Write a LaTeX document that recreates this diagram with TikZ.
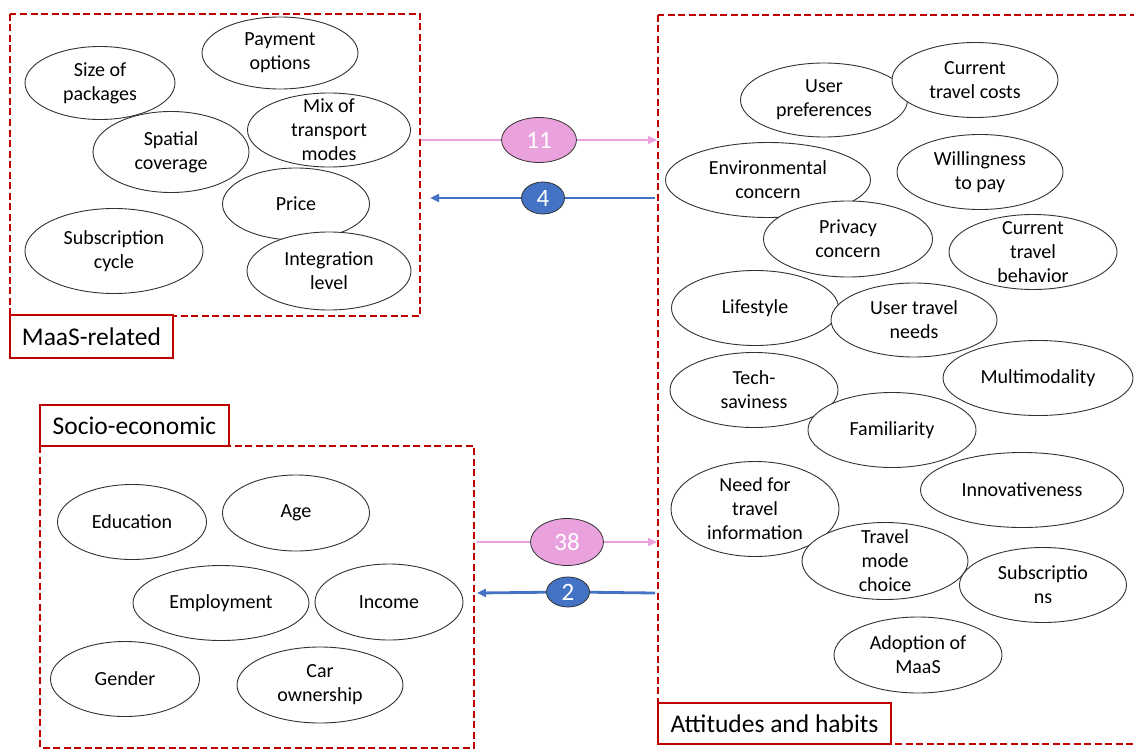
\documentclass[tikz,border=0pt]{standalone}
\usepackage{fontspec}
\setmainfont{Carlito}
\usetikzlibrary{shapes.geometric,arrows.meta}
\definecolor{boxred}{RGB}{192,0,0}
\definecolor{pinkc}{RGB}{234,162,222}
\definecolor{bluec}{RGB}{68,114,196}
\definecolor{outl}{RGB}{50,50,50}
\tikzset{
  ell/.style={ellipse, draw=outl, line width=0.9pt, fill=white, inner sep=-20pt, align=center,
     font=\fontsize{20}{24}\selectfont},
  grp/.style={draw=boxred, line width=2.9pt, dash pattern=on 7pt off 3.5pt},
  lbl/.style={draw=boxred, line width=2.9pt, fill=white, inner sep=0pt,
     font=\fontsize{25.5}{30}\selectfont},
  numpink/.style={ellipse, draw=outl, line width=0.8pt, fill=pinkc, text=white, inner sep=-20pt,
     font=\fontsize{25}{28}\selectfont},
  numblue/.style={ellipse, draw=outl, line width=0.8pt, fill=bluec, text=white, inner sep=-20pt,
     font=\fontsize{25}{28}\selectfont},
  pinkline/.style={draw=pinkc, line width=2.2pt},
  blueline/.style={draw=bluec, line width=2.8pt},
  tip/.style={-{Triangle[length=9pt,width=8pt]}}
}
\newcommand{\el}[6]{\node[ell, minimum width=#4pt, minimum height=#5pt] (#1) at (#2,#3) {#6};}
\begin{document}
\begin{tikzpicture}[x=1pt,y=-1pt]
\useasboundingbox (0,0) rectangle (1134,749);
\clip (0,0) rectangle (1134,749);
% group boxes
\draw[grp] (10,14) rectangle (420,316);
\draw[grp] (40,446) rectangle (474,748);
\draw[grp] (658,15) rectangle (1150,744);
\node[lbl, minimum width=163pt, minimum height=43pt] (maaslbl) at (91.5,336.5) {MaaS-related};
\node[lbl, minimum width=189pt, minimum height=41pt] (socilbl) at (134.5,425.5) {Socio-economic};
\node[lbl, minimum width=233pt, minimum height=41pt] (attlbl) at (774.5,723.5) {Attitudes and habits};
% MaaS-related
\el{pay}{280}{53}{156}{72}{Payment\\options}
\el{size}{100}{83}{150}{73}{Size of\\packages}
\el{mix}{329}{130}{163}{74}{Mix of\\transport\\modes}
\el{spat}{171}{152}{156}{81}{Spatial\\coverage}
\el{price}{296}{204}{147}{72}{Price}
\el{subc}{114}{251}{178}{85}{Subscription\\cycle}
\el{integ}{329}{271}{164}{78}{Integration\\level}
% Attitudes and habits
\el{upref}{824}{100}{167}{74}{User\\preferences}
\el{ccost}{975}{80}{166}{75}{Current\\travel costs}
\el{env}{768}{180}{205}{75}{Environmental\\concern}
\el{wtp}{980}{172}{166}{75}{Willingness\\to pay}
\el{priv}{848}{239}{169}{76}{Privacy\\concern}
\el{ctb}{1033}{252}{168}{75}{Current\\travel\\behavior}
\el{life}{755}{308}{167}{75}{Lifestyle}
\el{utn}{914}{320}{166}{74}{User travel\\needs}
\el{multi}{1038}{378}{190}{75}{Multimodality}
\el{tech}{754}{390}{168}{75}{Tech-\\saviness}
\el{fam}{892}{430}{168}{75}{Familiarity}
\el{innov}{1022}{490}{203}{75}{Innovativeness}
\el{need}{755}{509}{168}{95}{Need for\\travel\\information}
\el{tmc}{885}{561}{166}{77}{Travel\\mode\\choice}
\el{subs}{1043}{585}{167}{75}{Subscriptio\\ns}
\el{adopt}{918}{655}{168}{76}{Adoption of\\MaaS}
% Socio-economic
\el{edu}{132}{522}{149}{75}{Education}
\el{age}{296}{513}{147}{76}{Age}
\el{emp}{221}{603}{176}{75}{Employment}
\el{inc}{389}{602}{148}{76}{Income}
\el{gen}{125}{679}{149}{75}{Gender}
\el{car}{320}{685}{166}{76}{Car\\ownership}
% connectors
\coordinate (p1s) at (421,140);
\coordinate (p1e) at (657,140);
\coordinate (b1s) at (655,198);
\coordinate (b1e) at (430,198);
\coordinate (p2s) at (477,542);
\coordinate (p2e) at (657,542);
\coordinate (b2s) at (655,593);
\coordinate (b2e) at (477,593);
\node[numpink, minimum width=75pt, minimum height=45pt] (n11) at (539,140) {11};
\node[numblue, minimum width=43pt, minimum height=32pt] (n4) at (543,198) {4};
\node[numpink, minimum width=73pt, minimum height=47pt] (n38) at (567,542) {38};
\node[numblue, minimum width=43pt, minimum height=30pt] (n2) at (568,592) {2};
\draw[pinkline] (p1s) -- (n11);
\draw[pinkline, tip] (n11) -- (p1e);
\draw[blueline] (b1s) -- (n4);
\draw[blueline, tip] (n4) -- (b1e);
\draw[pinkline] (p2s) -- (n38);
\draw[pinkline, tip] (n38) -- (p2e);
\draw[blueline] (b2s) -- (n2);
\draw[blueline, tip] (n2) -- (b2e);
\end{tikzpicture}
\end{document}
